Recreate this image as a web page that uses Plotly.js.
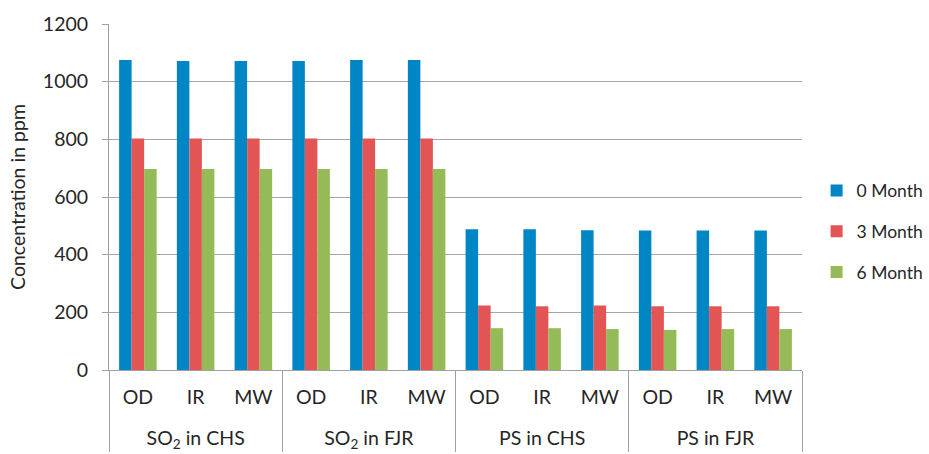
<!DOCTYPE html>
<html>
<head>
<meta charset="utf-8">
<script src="https://cdn.plot.ly/plotly-3.0.1.min.js"></script>
<style>html,body{margin:0;padding:0;background:#fff;}#chart{width:929px;height:454px;}</style>
</head>
<body>
<div id="chart"></div>
<script>
// Group (outer) and method (inner) categories
const groups = ["<br>SO<sub>2</sub> in CHS","<br>SO<sub>2</sub> in CHS","<br>SO<sub>2</sub> in CHS",
                "<br>SO<sub>2</sub> in FJR","<br>SO<sub>2</sub> in FJR","<br>SO<sub>2</sub> in FJR",
                "<br>PS in CHS","<br>PS in CHS","<br>PS in CHS",
                "<br>PS in FJR","<br>PS in FJR","<br>PS in FJR"];
const methods = ["OD","IR","MW","OD","IR","MW","OD","IR","MW","OD","IR","MW"];

const seriesNames = ["0 Month","3 Month","6 Month"];
const month0 = [1075,1072,1072,1072,1075,1075,488,488,485,484,484,484];
const month3 = [803,803,803,803,803,803,224,221,224,221,221,221];
const month6 = [697,697,697,697,697,697,145,145,142,139,142,142];
const colors = ["#0086c4","#e35454","#95bb58"];

const values = [month0, month3, month6];
const traces = values.map((v,i)=>({
  type:"bar",
  name:seriesNames[i],
  x:[groups, methods],
  y:v,
  marker:{color:colors[i]},
  legendgroup:"g"+i
}));

const fam = "Lato, 'Open Sans', sans-serif";
const fs = 19.5;
const col = "#262626";
const layout = {
  width:929, height:454,
  margin:{l:109, r:127, t:24, b:84, autoexpand:false},
  paper_bgcolor:"#fff", plot_bgcolor:"#fff",
  font:{family:fam, size:fs, color:col},
  barmode:"group",
  bargap:0.35,
  bargroupgap:0,
  showlegend:true,
  legend:{xref:"container", yref:"container", x:0.879, xanchor:"left", y:0.49, yanchor:"middle",
          bgcolor:"rgba(0,0,0,0)",
          font:{family:fam, size:17.5, color:col},
          traceorder:"grouped", tracegroupgap:15, itemwidth:30},
  xaxis:{
    type:"multicategory",
    showline:true, linecolor:"#a0a0a0", linewidth:1,
    showdividers:true, dividercolor:"#a0a0a0", dividerwidth:1,
    ticks:"", showgrid:false,
    ticklabelstandoff:10,
    tickfont:{family:fam, size:fs, color:col}
  },
  yaxis:{
    range:[0,1200], dtick:200, tick0:0,
    showgrid:true, gridcolor:"#a6a6a6", gridwidth:1,
    showline:true, linecolor:"#a0a0a0", linewidth:1,
    ticks:"outside", ticklen:6, tickcolor:"#a0a0a0",
    ticklabelstandoff:10,
    zeroline:false,
    tickfont:{family:fam, size:fs, color:col},
    title:{text:"Concentration in ppm", font:{family:fam, size:fs, color:col}, standoff:12}
  }
};
Plotly.newPlot("chart", traces, layout, {displayModeBar:false, staticPlot:true});
</script>
</body>
</html>
